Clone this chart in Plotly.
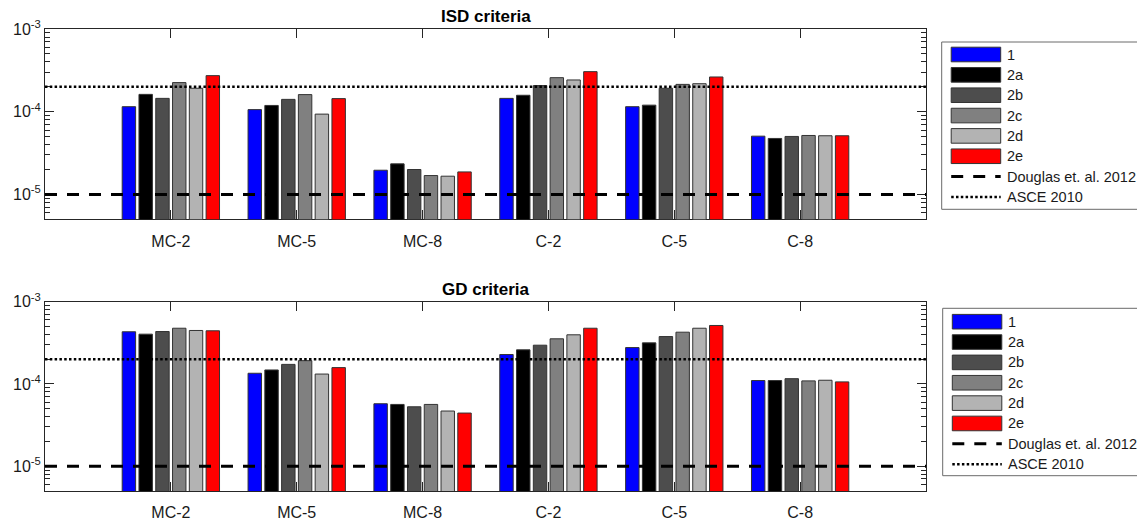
import plotly.graph_objects as go

# ---------------- data ----------------
CATEGORIES = ["MC-2", "MC-5", "MC-8", "C-2", "C-5", "C-8"]
SERIES_NAMES = ["1", "2a", "2b", "2c", "2d", "2e"]

ISD_1 = [1.15e-4, 1.06e-4, 1.96e-5, 1.45e-4, 1.15e-4, 5.06e-5]
ISD_2A = [1.62e-4, 1.19e-4, 2.34e-5, 1.58e-4, 1.20e-4, 4.75e-5]
ISD_2B = [1.45e-4, 1.41e-4, 2.00e-5, 2.07e-4, 1.92e-4, 5.02e-5]
ISD_2C = [2.25e-4, 1.61e-4, 1.69e-5, 2.58e-4, 2.14e-4, 5.16e-5]
ISD_2D = [1.92e-4, 9.35e-5, 1.66e-5, 2.42e-4, 2.18e-4, 5.12e-5]
ISD_2E = [2.73e-4, 1.44e-4, 1.87e-5, 3.05e-4, 2.63e-4, 5.12e-5]

GD_1 = [4.31e-4, 1.35e-4, 5.75e-5, 2.28e-4, 2.77e-4, 1.10e-4]
GD_2A = [4.03e-4, 1.48e-4, 5.64e-5, 2.60e-4, 3.16e-4, 1.10e-4]
GD_2B = [4.34e-4, 1.73e-4, 5.28e-5, 2.96e-4, 3.77e-4, 1.16e-4]
GD_2C = [4.76e-4, 1.92e-4, 5.64e-5, 3.54e-4, 4.26e-4, 1.09e-4]
GD_2D = [4.47e-4, 1.32e-4, 4.69e-5, 3.96e-4, 4.76e-4, 1.11e-4]
GD_2E = [4.43e-4, 1.58e-4, 4.43e-5, 4.76e-4, 5.14e-4, 1.06e-4]

DOUGLAS_2012 = 1e-5
ASCE_2010 = 2e-4
REF_NAMES = ["Douglas et. al. 2012", "ASCE 2010"]

Y_TICK_VALUES = [1e-5, 1e-4, 1e-3]
Y_TICK_TEXT = ["10<sup>-5</sup>", "10<sup>-4</sup>", "10<sup>-3</sup>"]
PANEL_TITLES = ["ISD criteria", "GD criteria"]

ISD_SERIES = [ISD_1, ISD_2A, ISD_2B, ISD_2C, ISD_2D, ISD_2E]
GD_SERIES = [GD_1, GD_2A, GD_2B, GD_2C, GD_2D, GD_2E]

# ---------------- style ----------------
COLORS = ["#0000ff", "#000000", "#4d4d4d", "#808080", "#b3b3b3", "#ff0000"]
EDGE = "#333333"
AX = "#262626"
FONT = "Liberation Sans, Arial, sans-serif"

FW, FH = 1137, 522
L, R, T, B = 45, 211, 29, 31
W = FW - L - R
H = FH - T - B


def px(x):
    return (x - L) / W


def py(y):
    return (FH - B - y) / H


x_pos = list(range(1, len(CATEGORIES) + 1))

fig = go.Figure()

for panel, (series_list, xa, ya) in enumerate(
    [(ISD_SERIES, "x", "y"), (GD_SERIES, "x2", "y2")]
):
    for name, vals, col in zip(SERIES_NAMES, series_list, COLORS):
        fig.add_trace(
            go.Bar(
                x=x_pos,
                y=vals,
                name=name,
                marker=dict(color=col, line=dict(color=EDGE, width=1)),
                xaxis=xa,
                yaxis=ya,
                showlegend=False,
                offsetgroup=name,
            )
        )
    fig.add_trace(
        go.Scatter(
            x=[0, len(CATEGORIES) + 1],
            y=[DOUGLAS_2012, DOUGLAS_2012],
            mode="lines",
            line=dict(color="black", width=3, dash="12px,10px"),
            xaxis=xa,
            yaxis=ya,
            showlegend=False,
            name=REF_NAMES[0],
        )
    )
    fig.add_trace(
        go.Scatter(
            x=[0, len(CATEGORIES) + 1],
            y=[ASCE_2010, ASCE_2010],
            mode="lines",
            line=dict(color="black", width=2.5, dash="2.5px,2.3px"),
            xaxis=xa,
            yaxis=ya,
            showlegend=False,
            name=REF_NAMES[1],
        )
    )

xcommon = dict(
    range=[0, len(CATEGORIES) + 1],
    tickmode="array",
    tickvals=x_pos,
    ticktext=CATEGORIES,
    ticks="inside",
    ticklen=9,
    tickcolor=AX,
    showline=True,
    linecolor=AX,
    linewidth=1,
    mirror="allticks",
    showgrid=False,
    zeroline=False,
    tickfont=dict(family=FONT, size=16, color="#1a1a1a"),
    ticklabelstandoff=7,
    layer="below traces",
    automargin=False,
)
ycommon = dict(
    type="log",
    range=[-5.30103, -3],
    tickmode="array",
    tickvals=Y_TICK_VALUES,
    ticktext=Y_TICK_TEXT,
    ticks="inside",
    ticklen=9,
    tickcolor=AX,
    showline=True,
    linecolor=AX,
    linewidth=1,
    mirror="allticks",
    showgrid=False,
    zeroline=False,
    tickfont=dict(family=FONT, size=16, color="#1a1a1a"),
    minor=dict(ticks="inside", ticklen=5, tickcolor=AX, dtick="D1", showgrid=False),
    layer="below traces",
    automargin=False,
)

top_dom = [py(219.3), 1.0]
bot_dom = [0.0, py(301.7)]

fig.update_layout(
    template="none",
    width=FW,
    height=FH,
    margin=dict(l=L, r=R, t=T, b=B, pad=0, autoexpand=False),
    paper_bgcolor="white",
    plot_bgcolor="white",
    barmode="group",
    bargap=0.2,
    bargroupgap=0.2,
    showlegend=False,
    font=dict(family=FONT, color="#1a1a1a"),
    xaxis=dict(**xcommon, anchor="y"),
    yaxis=dict(**ycommon, domain=top_dom, anchor="x"),
    xaxis2=dict(**xcommon, anchor="y2"),
    yaxis2=dict(**ycommon, domain=bot_dom, anchor="x2"),
)

# ---------------- titles ----------------
annotations = []
for title, ty in zip(PANEL_TITLES, [16.7, 289.0]):
    annotations.append(
        dict(
            text="<b>%s</b>" % title,
            x=px(485.5),
            y=py(ty),
            xref="paper",
            yref="paper",
            xanchor="center",
            yanchor="middle",
            showarrow=False,
            font=dict(family=FONT, size=17, color="black"),
        )
    )

# ---------------- legends (drawn manually to match patch shapes) ----------------
shapes = []
LEG_LABELS = SERIES_NAMES + REF_NAMES


def add_legend(box_left, box_top, box_bottom, first_row, patch_left):
    pitch = 20.35
    shapes.append(
        dict(
            type="rect",
            xref="paper",
            yref="paper",
            x0=px(box_left),
            x1=px(1150),
            y0=py(box_bottom),
            y1=py(box_top),
            line=dict(color="#6a6a6a", width=1),
            fillcolor="white",
            layer="above",
        )
    )
    for i, lab in enumerate(LEG_LABELS):
        yc = first_row + i * pitch
        if i < len(SERIES_NAMES):
            shapes.append(
                dict(
                    type="rect",
                    xref="paper",
                    yref="paper",
                    x0=px(patch_left),
                    x1=px(patch_left + 49.5),
                    y0=py(yc + 7.3),
                    y1=py(yc - 7.3),
                    fillcolor=COLORS[i],
                    line=dict(color=EDGE, width=1),
                    layer="above",
                )
            )
        else:
            ls = (
                dict(color="black", width=3, dash="12px,10px")
                if i == len(SERIES_NAMES)
                else dict(color="black", width=2.5, dash="2.5px,2.3px")
            )
            shapes.append(
                dict(
                    type="line",
                    xref="paper",
                    yref="paper",
                    x0=px(patch_left),
                    x1=px(patch_left + 49.5),
                    y0=py(yc),
                    y1=py(yc),
                    line=ls,
                    layer="above",
                )
            )
        annotations.append(
            dict(
                text=lab,
                x=px(patch_left + 54),
                y=py(yc),
                xref="paper",
                yref="paper",
                xanchor="left",
                yanchor="middle",
                showarrow=False,
                font=dict(family=FONT, size=14.5, color="#1a1a1a"),
            )
        )


add_legend(941.7, 42.0, 209.3, 54.5, 951.2)
add_legend(942.7, 308.3, 475.7, 321.7, 952.3)

fig.update_layout(shapes=shapes, annotations=annotations)

fig.write_html("out.html")
